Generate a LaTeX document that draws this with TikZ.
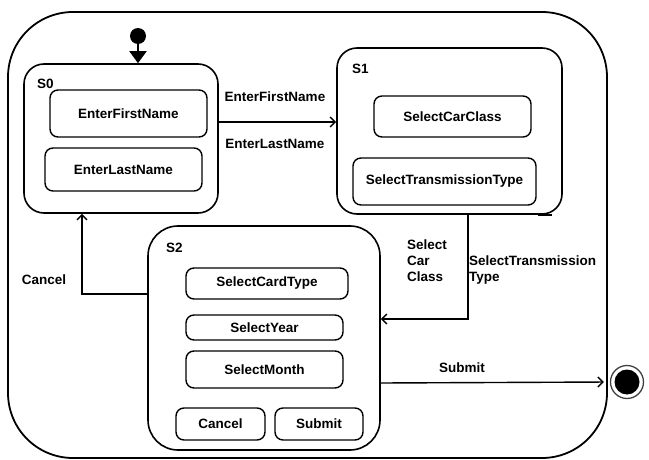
\documentclass[tikz,border=0pt]{standalone}
\usepackage{fontspec}
\setmainfont{Liberation Sans}
\usetikzlibrary{arrows.meta}

\begin{document}
\begin{tikzpicture}[x=1pt,y=-1pt,
  every node/.style={font=\fontsize{13.5}{16}\selectfont\bfseries},
  frame/.style={draw, line width=1.8pt, rounded corners=65pt, inner sep=0},
  statebox/.style={draw, line width=1.6pt, rounded corners=20pt, inner sep=0},
  actbox/.style={draw, line width=1.4pt, rounded corners=8pt, inner sep=0, align=center},
  lbl/.style={inner sep=0},
  flow/.style={line width=1.4pt, -{Straight Barb[length=5pt,width=10pt,line width=1.4pt]}}]
\useasboundingbox (0,0) rectangle (649,460);

% outer region
\node[frame, minimum width=599pt, minimum height=446pt] (frame) at (307.5,235) {};

% composite states
\node[statebox, minimum width=194pt, minimum height=149pt] (S0) at (121,138.5) {};
\node[statebox, minimum width=225pt, minimum height=166pt] (S1) at (449.5,131) {};
\node[statebox, rounded corners=30pt, minimum width=232pt, minimum height=224pt] (S2) at (264,338) {};

\node[lbl, anchor=west] (s0name) at (37,84) {S0};
\node[lbl, anchor=west] (s1name) at (352,69) {S1};
\node[lbl, anchor=west] (s2name) at (166,248) {S2};

% inner activities
\node[actbox, minimum width=157pt, minimum height=47pt] (efn) at (128.5,113.5) {EnterFirstName};
\node[actbox, minimum width=157pt, minimum height=43pt] (eln) at (123.5,169.5) {EnterLastName};
\node[actbox, minimum width=157pt, minimum height=41pt] (scc) at (452.5,116.5) {SelectCarClass};
\node[actbox, minimum width=183pt, minimum height=47pt] (stt) at (444.5,181.5) {SelectTransmissionType};
\node[actbox, minimum width=162pt, minimum height=31pt] (sct) at (267,283.5) {SelectCardType};
\node[actbox, minimum width=157pt, minimum height=25pt] (sy) at (264.5,327.5) {SelectYear};
\node[actbox, minimum width=157pt, minimum height=37pt] (sm) at (264.5,369.5) {SelectMonth};
\node[actbox, minimum width=89pt, minimum height=32pt] (cancelbtn) at (220.5,424) {Cancel};
\node[actbox, minimum width=88pt, minimum height=32pt] (submitbtn) at (319,424) {Submit};

% initial and final pseudo-states
\node[circle, fill=black, minimum size=16pt, inner sep=0] (init) at (138,36) {};
\node[circle, draw=black!75, line width=1.3pt, minimum size=33pt, inner sep=0] (fin) at (627,382) {};
\node[circle, fill=black, minimum size=25pt, inner sep=0] (finc) at (fin.center) {};

% routing helpers
\coordinate (rowA) at (0,122);
\coordinate (colB) at (468,0);
\coordinate (rowB) at (0,319);
\coordinate (rowC) at (0,294);
\coordinate (colC) at (82,0);
\coordinate (rowD) at (0,383);

% transitions
\draw[line width=1.8pt, -{Triangle[length=12pt,width=17pt]}] (init) -- (init |- S0.north);
\draw[flow] (S0.east |- rowA) -- (S1.west |- rowA);
\draw[flow] (S1.south -| colB) |- (S2.east |- rowB);
\draw[flow] (S2.west |- rowC) -| (S0.south -| colC);
\draw[flow, shorten >=6pt] (S2.east |- rowD) -- (fin.west);

% small overrun of the S1 outline
\draw[line width=1.6pt] (S1.south -| colB) ++(70,0) -- ++(14,0);

% transition labels
\node[lbl] (tEFN) at (275,97) {EnterFirstName};
\node[lbl] (tELN) at (275,144) {EnterLastName};
\node[lbl, anchor=north west, align=left] (tSCC) at (407,240) {Select\\Car\\Class};
\node[lbl, anchor=north west, align=left] (tSTT) at (469,256) {SelectTransmission\\Type};
\node[lbl] (tCancel) at (44,280) {Cancel};
\node[lbl] (tSubmit) at (462,368) {Submit};
\end{tikzpicture}
\end{document}
